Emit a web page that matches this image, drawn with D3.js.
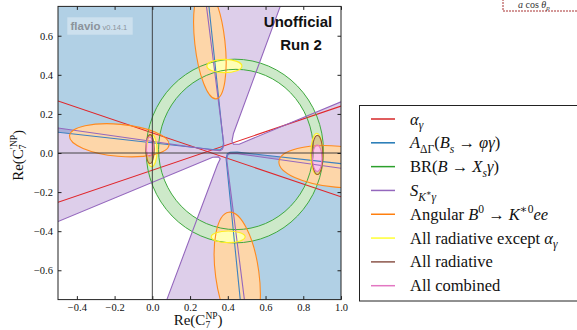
<!DOCTYPE html>
<html>
<head>
<meta charset="utf-8">
<script src="https://cdn.jsdelivr.net/npm/d3@7"></script>
<style>
  body { margin: 0; background: #fff; }
  svg { display: block; }
</style>
</head>
<body>
<div id="chart"></div>
<script>
// ---- data: x = Re(C7 NP), y = Re(C7' NP) ----
var xTicks = [-0.4, -0.2, 0.0, 0.2, 0.4, 0.6, 0.8, 1.0];
var yTicks = [-0.6, -0.4, -0.2, 0.0, 0.2, 0.4, 0.6];

// alpha_gamma : two contour lines
var alphaLines = [
  [[-0.5, 0.266], [1.0, -0.224]],
  [[-0.5, -0.252], [1.0, 0.24]]
];

// A_DeltaGamma(Bs -> phi gamma) : boundaries of the two allowed regions
var adgUpperLeft = [[-0.5, 0.106], [0.33, 0.017], [0.362, 0.018], [0.373, 0.028], [0.377, 0.05], [0.30, 0.75]];
var adgLowerRight = [[1.0, -0.0545], [0.45, 0.0044], [0.412, 0.004], [0.397, -0.004], [0.391, -0.03], [0.466, -0.75]];

// BR(B -> Xs gamma) : ring, [cx, cy, r]
var brOuter = [0.437, 0.01, 0.47];
var brInner = [0.443, 0.018, 0.41];

// S_K*gamma : the four regions outside the allowed band
var skgUpperLeft = [[-0.5, 0.128], [0.33, 0.0143], [0.36, 0.012], [0.372, 0.02], [0.379, 0.045], [0.287, 0.75]];
var skgLowerRight = [[1.0, -0.078], [0.45, -0.003], [0.41, -0.003], [0.398, -0.012], [0.395, -0.04], [0.488, -0.75]];
var skgUpperRight = [[0.678, 0.75], [0.43, 0.10], [0.422, 0.06], [0.43, 0.045], [0.46, 0.045], [1.0, 0.262]];
var skgLowerLeft = [[0.077, -0.75], [0.345, -0.06], [0.36, -0.03], [0.35, -0.02], [0.32, -0.022], [-0.5, -0.351]];

// ellipses : [cx, cy, semi axis along angle, other semi axis, angle in degrees]
var angularEllipses = [
  [0.305, 0.565, 0.29, 0.08, 96.6],
  [0.45, -0.62, 0.32, 0.115, 98],
  [-0.175, 0.065, 0.265, 0.082, -5],
  [0.98, -0.07, 0.31, 0.105, -5]
];
var radExceptAlpha = [
  [0.382, 0.445, 0.093, 0.034, 0],
  [0.402, -0.429, 0.09, 0.03, 0],
  [-0.003, 0.012, 0.028, 0.082, 0],
  [0.872, -0.005, 0.032, 0.106, 0]
];
var radAll = [
  [-0.012, 0.02, 0.022, 0.074, 0],
  [0.875, -0.01, 0.029, 0.1, 0]
];
var combined = [
  [-0.014, 0.032, 0.019, 0.05, 0],
  [0.874, -0.027, 0.025, 0.068, 0]
];

// legend entries
var legendLabels = [
  [["α", "i"], ["γ", "sub-i"]],
  [["A", "i"], ["ΔΓ", "sub-r"], ["(", "r"], ["B", "i"], ["s", "sub-i"], [" → ", "r"], ["φγ", "i"], [")", "r"]],
  [["BR(", "r"], ["B", "i"], [" → ", "r"], ["X", "i"], ["s", "sub-i"], ["γ", "i"], [")", "r"]],
  [["S", "i"], ["K", "sub-i"], ["∗", "subsup-r"], ["γ", "sub-i"]],
  [["Angular ", "r"], ["B", "i"], ["0", "sup-r"], [" → ", "r"], ["K", "i"], ["∗0", "sup-r"], ["ee", "i"]],
  [["All radiative except ", "r"], ["α", "i"], ["γ", "sub-i"]],
  [["All radiative", "r"]],
  [["All combined", "r"]]
];
var legendColors = ["#d62728", "#1f77b4", "#2ca02c", "#9467bd", "#ff7f0e", "#ffff33", "#8c564b", "#e377c2"];

// ---- layout ----
var svgWidth = 577;
var svgHeight = 330;
var margin = { top: 6.4, right: 236, bottom: 30.4, left: 58 };
var width = svgWidth - margin.left - margin.right;
var height = svgHeight - margin.top - margin.bottom;

var svg = d3.select("#chart")
  .append("svg")
  .attr("width", svgWidth)
  .attr("height", svgHeight);

var chartGroup = svg.append("g")
  .attr("transform", `translate(${margin.left}, ${margin.top})`);

var xScale = d3.scaleLinear().domain([-0.5, 1.0]).range([0, width]);
var yScale = d3.scaleLinear().domain([-0.75, 0.75]).range([height, 0]);
var xd = xScale.domain(), yd = yScale.domain();
var kx = xScale(1) - xScale(0);
var ky = yScale(0) - yScale(1);

chartGroup.append("clipPath").attr("id", "plotclip")
  .append("rect").attr("width", width).attr("height", height);
var plot = chartGroup.append("g").attr("clip-path", "url(#plotclip)");

var line = d3.line().x(d => xScale(d[0])).y(d => yScale(d[1]));

function closed(pts, corner) {
  return line(pts.concat([corner])) + "Z";
}

// ellipse in data space -> svg ellipse
function drawEllipses(g, list, fill, stroke, sw) {
  g.selectAll(null)
    .data(list)
    .enter()
    .append("ellipse")
    .attr("transform", d => {
      var t = d[4] * Math.PI / 180;
      var ang = Math.atan2(ky * Math.sin(t), kx * Math.cos(t)) * 180 / Math.PI;
      return `translate(${xScale(d[0])},${yScale(d[1])}) rotate(${-ang})`;
    })
    .attr("rx", d => {
      var t = d[4] * Math.PI / 180;
      return d[2] * Math.hypot(kx * Math.cos(t), ky * Math.sin(t));
    })
    .attr("ry", d => {
      var t = d[4] * Math.PI / 180;
      return d[3] * Math.hypot(kx * Math.sin(t), ky * Math.cos(t));
    })
    .attr("fill", fill)
    .attr("stroke", stroke)
    .attr("stroke-width", sw);
}

// ---- fills ----
// A_DeltaGamma
plot.append("path")
  .attr("d", closed(adgUpperLeft, [xd[0], yd[1]]) + closed(adgLowerRight, [xd[1], yd[0]]))
  .attr("fill", "rgba(31,119,180,0.35)");

// S_K*gamma: whole box minus the four outer regions
var boxPath = `M${xScale(xd[0])},${yScale(yd[0])}H${xScale(xd[1])}V${yScale(yd[1])}H${xScale(xd[0])}Z`;
plot.append("path")
  .attr("d", boxPath +
    closed(skgUpperLeft, [xd[0], yd[1]]) +
    closed(skgLowerRight, [xd[1], yd[0]]) +
    closed(skgUpperRight, [xd[1], yd[1]]) +
    closed(skgLowerLeft, [xd[0], yd[0]]))
  .attr("fill-rule", "evenodd")
  .attr("fill", "rgba(148,103,189,0.32)");

// BR ring
function ringPath(c, s) {
  var cx = xScale(c[0]), cy = yScale(c[1]), rx = c[2] * kx, ry = c[2] * ky;
  return `M${cx - rx},${cy}A${rx},${ry} 0 1 ${s} ${cx + rx},${cy}A${rx},${ry} 0 1 ${s} ${cx - rx},${cy}Z`;
}
plot.append("path")
  .attr("d", ringPath(brOuter, 1) + ringPath(brInner, 0))
  .attr("fill-rule", "evenodd")
  .attr("fill", "#cde9c9");

// ellipse fills
drawEllipses(plot, angularEllipses, "#fdd6a9", "none", 0);
drawEllipses(plot, radExceptAlpha, "#ffffb5", "none", 0);
drawEllipses(plot, radAll, "rgba(140,86,75,0.32)", "none", 0);
drawEllipses(plot, combined, "#f9c6e8", "none", 0);

// ---- contour lines ----
alphaLines.forEach(l => {
  plot.append("path").attr("d", line(l)).attr("fill", "none")
    .attr("stroke", "#e0262a").attr("stroke-width", 1.1);
});
[adgUpperLeft, adgLowerRight].forEach(l => {
  plot.append("path").attr("d", line(l)).attr("fill", "none")
    .attr("stroke", "#3d82c0").attr("stroke-width", 1.1);
});
plot.append("path").attr("d", ringPath(brOuter, 1)).attr("fill", "none")
  .attr("stroke", "#3fa83f").attr("stroke-width", 1);
plot.append("path").attr("d", ringPath(brInner, 1)).attr("fill", "none")
  .attr("stroke", "#3fa83f").attr("stroke-width", 1);
[skgUpperLeft, skgLowerRight, skgUpperRight, skgLowerLeft].forEach(l => {
  plot.append("path").attr("d", line(l)).attr("fill", "none")
    .attr("stroke", "#9467bd").attr("stroke-width", 1.1);
});
drawEllipses(plot, angularEllipses, "none", "#ff8a1e", 1.1);
drawEllipses(plot, radExceptAlpha, "none", "#ffee22", 1.2);
drawEllipses(plot, radAll, "none", "#9a5a3a", 1.1);
drawEllipses(plot, combined, "none", "#e377c2", 1.1);

// zero lines
plot.append("line")
  .attr("x1", xScale(0)).attr("x2", xScale(0)).attr("y1", 0).attr("y2", height)
  .attr("stroke", "#333").attr("stroke-width", 0.9);
plot.append("line")
  .attr("x1", 0).attr("x2", width).attr("y1", yScale(0)).attr("y2", yScale(0))
  .attr("stroke", "#333").attr("stroke-width", 0.9);

// ---- watermark and run label ----
chartGroup.append("rect")
  .attr("x", 67.3 - margin.left).attr("y", 17.3 - margin.top)
  .attr("width", 65.4).attr("height", 17.4)
  .attr("fill", "rgba(255,255,255,0.35)");
var wm = chartGroup.append("text")
  .attr("x", 70.5 - margin.left).attr("y", 30.5 - margin.top)
  .attr("font-family", "'Liberation Sans', Arial, sans-serif")
  .attr("fill", "#8b939b");
wm.append("tspan").attr("font-size", 11.5).attr("font-weight", "bold").text("flavio");
wm.append("tspan").attr("font-size", 7.5).attr("dx", 2).text("v0.14.1");

chartGroup.append("text")
  .attr("x", 298 - margin.left).attr("y", 26.7 - margin.top)
  .attr("text-anchor", "middle")
  .attr("font-family", "'Liberation Sans', Arial, sans-serif")
  .attr("font-weight", "bold").attr("font-size", 15).attr("fill", "#111")
  .text("Unofficial");
chartGroup.append("text")
  .attr("x", 301 - margin.left).attr("y", 50 - margin.top)
  .attr("text-anchor", "middle")
  .attr("font-family", "'Liberation Sans', Arial, sans-serif")
  .attr("font-weight", "bold").attr("font-size", 15).attr("fill", "#111")
  .text("Run 2");

// ---- axes ----
var tickFmt = d3.format(".1f");
var serif = "'Liberation Serif', 'DejaVu Serif', serif";

function styleAxis(g) {
  g.select(".domain").remove();
  g.selectAll("line").attr("stroke", "#222");
  g.selectAll("text").attr("font-family", serif).attr("font-size", 10.5).attr("fill", "#111");
}

chartGroup.append("g")
  .attr("transform", `translate(0, ${height})`)
  .call(d3.axisBottom(xScale).tickValues(xTicks).tickFormat(tickFmt).tickSizeInner(-3.5).tickSizeOuter(0).tickPadding(3.5))
  .call(styleAxis);
chartGroup.append("g")
  .call(d3.axisTop(xScale).tickValues(xTicks).tickFormat("").tickSizeInner(-3.5).tickSizeOuter(0))
  .call(styleAxis);
chartGroup.append("g")
  .call(d3.axisLeft(yScale).tickValues(yTicks).tickFormat(tickFmt).tickSizeInner(-3.5).tickSizeOuter(0).tickPadding(5))
  .call(styleAxis);
chartGroup.append("g")
  .attr("transform", `translate(${width}, 0)`)
  .call(d3.axisRight(yScale).tickValues(yTicks).tickFormat("").tickSizeInner(-3.5).tickSizeOuter(0))
  .call(styleAxis);

chartGroup.append("rect")
  .attr("width", width).attr("height", height)
  .attr("fill", "none").attr("stroke", "#222").attr("stroke-width", 1);

// axis labels with stacked sub/superscript
function coeffLabel(g, prime) {
  var t = g.append("text")
    .attr("font-family", serif).attr("font-size", 15).attr("fill", "#111");
  t.append("tspan").text("Re(C");
  var sub = t.append("tspan").attr("font-size", 9.5).attr("dy", 3).text("7");
  var w = sub.node().getComputedTextLength();
  t.append("tspan").attr("font-size", 9.5).attr("dy", -9).attr("dx", -w).text(prime ? "′NP" : "NP");
  t.append("tspan").attr("dy", 6).text(")");
  return t;
}
var xl = coeffLabel(svg, false);
var xw = xl.node().getComputedTextLength();
xl.attr("x", 0).attr("transform", `translate(${margin.left + width / 2 - xw / 2 + 1}, 324.5)`);
var yl = coeffLabel(svg, true);
var yw = yl.node().getComputedTextLength();
yl.attr("transform", `translate(23, ${margin.top + height / 2 + yw / 2}) rotate(-90)`);

// ---- legend ----
var legend = svg.append("g");
legend.append("rect")
  .attr("x", 359.5).attr("y", 105.5)
  .attr("width", 240).attr("height", 195.5)
  .attr("fill", "#fff").attr("stroke", "#222").attr("stroke-width", 1);

var rowY = d3.scalePoint().domain(d3.range(legendLabels.length)).range([119, 285.7]);

function mathText(g, parts, size) {
  var t = g.append("text").attr("font-family", serif).attr("font-size", size).attr("fill", "#111");
  var cur = 0;
  parts.forEach(p => {
    var kind = p[1];
    var shift = 0, fs = size;
    if (kind.indexOf("sub") === 0) { shift = size * 0.28; fs = size * 0.7; }
    if (kind.indexOf("sup") === 0) { shift = -size * 0.4; fs = size * 0.7; }
    if (kind.indexOf("subsup") === 0) { shift = -size * 0.02; fs = size * 0.5; }
    t.append("tspan")
      .attr("dy", shift - cur)
      .attr("font-size", fs)
      .attr("font-style", kind.slice(-1) === "i" ? "italic" : "normal")
      .text(p[0]);
    cur = shift;
  });
  return t;
}

legendLabels.forEach((parts, i) => {
  var yy = rowY(i);
  legend.append("line")
    .attr("x1", 371).attr("x2", 395).attr("y1", yy).attr("y2", yy)
    .attr("stroke", legendColors[i]).attr("stroke-width", 1.5);
  mathText(legend, parts, 16.5).attr("x", 410).attr("y", yy + 5.5);
});

// ---- fragment of the neighbouring figure, top right ----
svg.append("path")
  .attr("d", "M503,-1V11H580")
  .attr("fill", "none").attr("stroke", "#a83232").attr("stroke-width", 1)
  .attr("stroke-dasharray", "2,1");
var frag = svg.append("text")
  .attr("x", 518).attr("y", 8.2)
  .attr("font-family", serif).attr("font-size", 10).attr("fill", "#333");
frag.append("tspan").attr("font-style", "italic").text("a");
frag.append("tspan").text(" cos ");
frag.append("tspan").attr("font-style", "italic").text("θ");
frag.append("tspan").attr("font-style", "italic").attr("font-size", 7).attr("dy", 1.5).text("p");
</script>
</body>
</html>
